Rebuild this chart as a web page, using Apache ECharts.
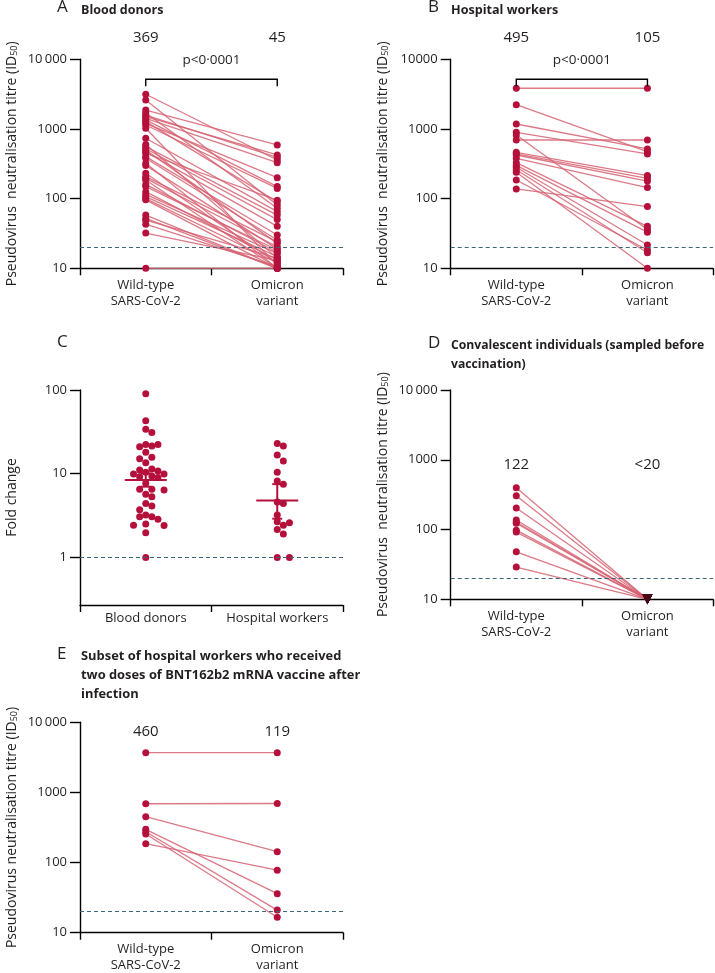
<!DOCTYPE html>
<html><head><meta charset="utf-8">
<script src="https://cdn.jsdelivr.net/npm/echarts@6/dist/echarts.min.js"></script>
<style>html,body{margin:0;padding:0;background:#fff}#c{width:715px;height:973px}</style>
</head><body><div id="c"></div>
<script>
// ---------------- data ----------------
const categories = ['Wild-type\nSARS-CoV-2', 'Omicron\nvariant'];
const foldCategories = ['Blood donors', 'Hospital workers'];
const detectionLimit = 20;
const pValue = 'p<0·0001';

// A – blood donors (paired)
const donorsWildType = [3150, 2600, 1870, 1700, 1585, 1500, 1420, 1350, 1275, 1200, 1140, 1023, 735, 600, 557, 520, 499, 470, 448, 401, 380, 321, 300, 231, 207, 195, 185, 160, 149, 126, 115, 107, 100, 96, 58, 52, 49, 43, 32, 10];
const donorsOmicron  = [359, 81, 589, 73, 392, 423, 328, 149, 90, 200, 140, 11, 65, 14, 58, 50, 22.8, 40, 95, 30, 25.5, 10, 19, 11.8, 24, 20.4, 10, 17, 18.3, 13.2, 16.4, 14.7, 12, 10, 10, 10, 14, 10.6, 13, 10];
const donorsMedians = ['369', '45'];

// B – hospital workers (paired)
const workersWildType = [3840, 2230, 1178, 896, 818, 695, 462, 440, 423, 379, 328, 300, 282, 260, 239, 185, 138];
const workersOmicron  = [3840, 472, 517, 438, 36, 695, 214, 196, 179, 144, 40, 33, 21.6, 16.7, 10, 18.3, 77];
const workersMedians = ['495', '105'];

// C – fold change
const foldDonors = [90, 43, 34, 31, 22.4, 22.4, 21.4, 21, 18, 15.7, 15.1, 13.5, 11.4, 11.1, 10.8, 10.4, 9.9, 9.9, 9.4, 9.2, 9.0, 7.7, 6.5, 6.5, 6.4, 5.7, 5.3, 4.4, 4.1, 3.7, 3.2, 3.05, 3.05, 2.85, 2.5, 2.43, 2.4, 1.97, 1.0];
const foldWorkers = [23, 21.4, 16.7, 14.2, 10.4, 8.2, 7.5, 4.6, 4.4, 3.2, 2.67, 2.6, 2.43, 2.16, 1.9, 1.0, 1.0];
const foldMean = [8.4, 4.8];
const foldCiLow = [7.0, 2.9];
const foldCiHigh = [10.1, 7.5];

// D – convalescent
const convWildType = [398, 305, 204, 137, 128, 123, 98, 92, 48, 29];
const convOmicron  = [10, 10, 10, 10, 10, 10, 10, 10, 10, 10];
const convMedians = ['122', '<20'];

// E – subset of hospital workers
const subsetWildType = [3690, 690, 451, 186, 298, 275, 255];
const subsetOmicron  = [3690, 695, 143, 78, 36, 21, 16.6];
const subsetMedians = ['460', '119'];

// ---------------- style ----------------
const FONT = '"Open Sans", "Noto Sans", sans-serif';
const TXT = '#231f20';
const DOT = '#b5103c';
const LINE = 'rgba(214,98,114,0.85)';
const DASH = '#3f6676';

const grids = [
  {left: 80, top: 59.3, width: 263, height: 209},
  {left: 450.7, top: 59.3, width: 262.3, height: 209},
  {left: 80, top: 390, width: 263, height: 215},
  {left: 450.7, top: 390, width: 262.3, height: 209.3},
  {left: 80, top: 722.3, width: 263, height: 210.4}
].map(g => Object.assign({containLabel: false, outerBoundsMode: 'none'}, g));

const titreName = (dbl) => 'Pseudovirus' + (dbl ? '  ' : ' ') + 'neutralisation titre (ID{s|50})';
const nameStyle = {fontFamily: FONT, fontSize: 14, color: TXT,
  rich: {s: {fontFamily: FONT, fontSize: 9, color: TXT, verticalAlign: 'bottom', lineHeight: 13}}};

function fmt10k(sp) {
  return v => { const r = Math.round(v); return r === 10000 ? (sp ? '10\u2009000' : '10000') : String(r); };
}
function titreAxis(gi, dbl, sp) {
  return {
    type: 'log', logBase: 10, gridIndex: gi, min: 10, max: 10000,
    axisLine: {show: true, onZero: false, lineStyle: {color: '#000', width: 1.4}},
    axisTick: {show: true, length: 10, lineStyle: {color: '#000', width: 1.4}},
    minorTick: {show: false}, splitLine: {show: false},
    axisLabel: {fontFamily: FONT, fontSize: 13, color: TXT, margin: 13, formatter: fmt10k(sp)},
    name: titreName(dbl), nameLocation: 'middle', nameGap: 61, nameRotate: 90, nameTextStyle: nameStyle
  };
}
function catAxis(gi, data, margin) {
  return {
    type: 'category', gridIndex: gi, data: data, boundaryGap: true,
    axisLine: {show: true, onZero: false, lineStyle: {color: '#000', width: 1.4}},
    axisTick: {show: true, length: 7, lineStyle: {color: '#000', width: 1.4}},
    axisLabel: {fontFamily: FONT, fontSize: 13, color: TXT, margin: margin, lineHeight: 16, interval: 0},
    splitLine: {show: false}
  };
}

const dashed = (val) => ({
  silent: true, symbol: ['none', 'none'], label: {show: false},
  lineStyle: {type: [4, 3], color: DASH, width: 1.2}, data: [{yAxis: val}]
});

function pairLines(gi, wt, om) {
  return {
    type: 'custom', xAxisIndex: gi, yAxisIndex: gi, z: 2, clip: false,
    data: wt.map((v, i) => [0, v, 1, om[i]]),
    encode: {x: [0, 2], y: [1, 3]},
    renderItem: (params, api) => {
      const p1 = api.coord([api.value(0), api.value(1)]);
      const p2 = api.coord([api.value(2), api.value(3)]);
      return {type: 'line', shape: {x1: p1[0], y1: p1[1], x2: p2[0], y2: p2[1]},
        style: {stroke: LINE, lineWidth: 1.3}};
    }
  };
}
function dots(gi, col, vals, extra) {
  return Object.assign({
    type: 'scatter', xAxisIndex: gi, yAxisIndex: gi, z: 3,
    symbol: 'circle', symbolSize: 7, itemStyle: {color: DOT, opacity: 1},
    data: vals.map(v => [col, v])
  }, extra || {});
}
function medianLabels(gi, labels, dy) {
  return {
    type: 'custom', xAxisIndex: gi, yAxisIndex: gi, z: 5, clip: false, silent: true,
    data: labels.map((l, i) => [i, 10000]),
    renderItem: (params, api) => {
      const p = api.coord([api.value(0), api.value(1)]);
      return {type: 'text', style: {text: labels[params.dataIndex], x: p[0], y: p[1] + dy,
        align: 'center', verticalAlign: 'middle', fontFamily: FONT, fontSize: 15, fill: TXT}};
    }
  };
}
function bracket(gi) {
  return {
    type: 'custom', xAxisIndex: gi, yAxisIndex: gi, z: 5, clip: false, silent: true,
    data: [[0, 10000]],
    renderItem: (params, api) => {
      const a = api.coord([0, 10000]);
      const b = api.coord([1, 10000]);
      const y = a[1] + 20;
      return {type: 'group', children: [
        {type: 'polyline', shape: {points: [[a[0], y + 7], [a[0], y], [b[0], y], [b[0], y + 7]]},
          style: {stroke: '#000', lineWidth: 1.4, fill: null}},
        {type: 'text', style: {text: pValue, x: (a[0] + b[0]) / 2, y: a[1] + 1,
          align: 'center', verticalAlign: 'middle', fontFamily: FONT, fontSize: 13.5, fill: TXT}}
      ]};
    }
  };
}

// beeswarm offsets for panel C (layout only)
const gC = grids[2];
const pxPerDecade = gC.height / (Math.log10(100) - Math.log10(0.27));
const unitPx = gC.width / 2;
function swarm(values, step, minDist) {
  const order = values.map((v, i) => i).sort((a, b) => values[b] - values[a]);
  const placed = []; const off = new Array(values.length).fill(0);
  order.forEach(i => {
    const y = Math.log10(values[i]) * pxPerDecade;
    for (let k = 0; k < 40; k++) {
      const m = k === 0 ? 0 : (k % 2 === 1 ? Math.ceil(k / 2) : -Math.ceil(k / 2));
      const x = m * step;
      if (placed.every(p => (p[0] - x) ** 2 + (p[1] - y) ** 2 >= minDist * minDist)) {
        placed.push([x, y]); off[i] = x / unitPx; break;
      }
    }
  });
  return off;
}
const offDonors = swarm(foldDonors, 6.1, 6.3);
const offWorkers = swarm(foldWorkers, 6.1, 6.3);

const xAxes = [
  catAxis(0, categories, 9),
  catAxis(1, categories, 9),
  catAxis(2, foldCategories, 5),
  catAxis(3, categories, 9),
  catAxis(4, categories, 9),
  {type: 'value', gridIndex: 2, min: -0.5, max: 1.5, show: false}
];
const yAxes = [
  titreAxis(0, true, true),
  titreAxis(1, true, false),
  {
    type: 'log', logBase: 10, gridIndex: 2, min: 0.27, max: 100,
    axisLine: {show: true, onZero: false, lineStyle: {color: '#000', width: 1.4}},
    axisTick: {show: true, length: 10, lineStyle: {color: '#000', width: 1.4}},
    minorTick: {show: false}, splitLine: {show: false},
    axisLabel: {fontFamily: FONT, fontSize: 13, color: TXT, margin: 13, showMinLabel: false,
      formatter: v => { const r = Math.round(v * 100) / 100; return (r === 1 || r === 10 || r === 100) ? String(r) : ''; }},
    name: 'Fold change', nameLocation: 'middle', nameGap: 61, nameRotate: 90, nameTextStyle: nameStyle
  },
  titreAxis(3, true, true),
  titreAxis(4, false, true)
];

const series = [
  // A
  pairLines(0, donorsWildType, donorsOmicron),
  dots(0, 0, donorsWildType, {markLine: dashed(detectionLimit)}),
  dots(0, 1, donorsOmicron),
  medianLabels(0, donorsMedians, -22),
  bracket(0),
  // B
  pairLines(1, workersWildType, workersOmicron),
  dots(1, 0, workersWildType, {markLine: dashed(detectionLimit)}),
  dots(1, 1, workersOmicron),
  medianLabels(1, workersMedians, -22),
  bracket(1),
  // C
  {type: 'scatter', xAxisIndex: 5, yAxisIndex: 2, z: 3, symbolSize: 7, itemStyle: {color: DOT, opacity: 1},
    data: foldDonors.map((v, i) => [0 + offDonors[i], v]), markLine: dashed(1)},
  {type: 'scatter', xAxisIndex: 5, yAxisIndex: 2, z: 3, symbolSize: 7, itemStyle: {color: DOT, opacity: 1},
    data: foldWorkers.map((v, i) => [1 + offWorkers[i], v])},
  {type: 'custom', xAxisIndex: 5, yAxisIndex: 2, z: 4, silent: true,
    data: foldMean.map((m, i) => [i, m, foldCiLow[i], foldCiHigh[i]]),
    encode: {x: 0, y: [1, 2, 3]},
    renderItem: (params, api) => {
      const pm = api.coord([api.value(0), api.value(1)]);
      const pl = api.coord([api.value(0), api.value(2)]);
      const ph = api.coord([api.value(0), api.value(3)]);
      const st = {stroke: DOT, lineWidth: 2};
      return {type: 'group', children: [
        {type: 'line', shape: {x1: pm[0] - 21, y1: pm[1], x2: pm[0] + 21, y2: pm[1]}, style: st},
        {type: 'line', shape: {x1: pm[0], y1: pl[1], x2: pm[0], y2: ph[1]}, style: st},
        {type: 'line', shape: {x1: pm[0] - 5, y1: pl[1], x2: pm[0] + 5, y2: pl[1]}, style: st},
        {type: 'line', shape: {x1: pm[0] - 5, y1: ph[1], x2: pm[0] + 5, y2: ph[1]}, style: st}
      ]};
    }},
  // D
  pairLines(3, convWildType, convOmicron),
  dots(3, 0, convWildType, {markLine: dashed(detectionLimit)}),
  dots(3, 1, convOmicron, {symbol: 'triangle', symbolRotate: 180, symbolSize: 10, itemStyle: {color: '#4a0816', opacity: 1}}),
  medianLabels(3, convMedians, 75),
  // E
  pairLines(4, subsetWildType, subsetOmicron),
  dots(4, 0, subsetWildType, {markLine: dashed(detectionLimit)}),
  dots(4, 1, subsetOmicron),
  medianLabels(4, subsetMedians, 9)
];

const letter = (t, l, tp) => ({text: t, left: l, top: tp, padding: 0,
  textStyle: {fontFamily: FONT, fontSize: 17, fontWeight: 500, color: TXT}});
const head = (t, l, tp, fs) => ({text: t, left: l, top: tp, padding: 0,
  textStyle: {fontFamily: FONT, fontSize: fs, fontWeight: 'bold', color: TXT, lineHeight: 19}});

const option = {
  backgroundColor: '#fff',
  animation: false,
  title: [
    letter('A', 57, -1), head('Blood donors', 81, 1, 12.5),
    letter('B', 428, -1), head('Hospital workers', 451, 1, 12.6),
    letter('C', 57, 334),
    letter('D', 428, 335), head('Convalescent individuals (sampled before\nvaccination)', 451, 336, 12.2),
    letter('E', 57, 646), head('Subset of hospital workers who received\ntwo doses of BNT162b2 mRNA vaccine after\ninfection', 81, 647, 12.9)
  ],
  grid: grids,
  xAxis: xAxes,
  yAxis: yAxes,
  series: series
};
const chart = echarts.init(document.getElementById('c'));
chart.setOption(option);
</script></body></html>
